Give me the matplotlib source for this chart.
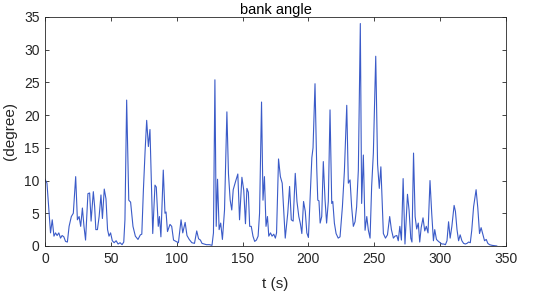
import matplotlib
matplotlib.use("Agg")
import matplotlib.pyplot as plt

plt.rcParams['font.family'] = ['Liberation Sans', 'DejaVu Sans']

t = [0, 1.5, 3.0, 4.2, 5.5, 6.8, 8.0, 9.2, 10.5, 11.8, 13.0, 14.3, 15.6, 17.0, 18.3, 20.0,
     21.5, 23.3, 24.6, 25.9, 27.1, 28.4, 29.6, 30.8, 32.6, 33.9, 35.0, 36.7, 37.7, 38.6,
     39.8, 41.1, 42.5, 43.6, 45.0, 46.3, 47.5, 48.6, 49.8, 51.1, 52.5, 54.0, 55.5, 57.0,
     58.5, 59.8, 60.7, 62.0, 63.6, 65.0, 66.8, 68.6, 70.6, 72.4, 73.5, 74.7, 76.0, 77.2,
     78.5, 79.7, 81.8, 83.5, 84.5, 86.0, 86.9, 88.0, 89.8, 91.1, 91.9, 93.0, 94.9, 96.2,
     97.6, 99.5, 101.3, 103.3, 104.6, 106.4, 107.8, 109.5, 111.5, 113.5, 115.2, 116.6,
     118.0, 119.2, 121.0, 122.5, 124.8, 126.8, 127.9, 129.0, 130.0, 131.0, 132.2, 133.4,
     134.7, 136.3, 138.1, 139.3, 140.6, 141.8, 142.9, 144.6, 146.4, 147.7, 149.5, 150.9,
     152.2, 153.3, 154.4, 155.4, 156.6, 157.9, 159.2, 160.5, 161.8, 162.9, 164.4, 165.5,
     166.6, 167.8, 168.9, 169.9, 171.2, 172.4, 173.7, 174.9, 175.8, 177.3, 178.7, 180.1,
     181.2, 182.4, 184.3, 185.7, 187.0, 188.4, 190.0, 191.3, 192.7, 193.9, 195.0, 196.3,
     197.6, 198.8, 200.0, 201.4, 202.6, 203.5, 205.0, 206.3, 207.1, 208.0, 208.9, 210.1,
     211.3, 212.6, 213.8, 215.1, 216.4, 217.7, 218.5, 219.7, 221.0, 222.6, 224.0, 225.8,
     227.3, 229.1, 230.3, 231.6, 232.8, 234.1, 235.4, 236.6, 237.9, 239.4, 240.4, 241.7,
     243.0, 244.3, 245.5, 246.8, 248.0, 249.3, 251.1, 252.5, 253.8, 255.0, 256.9, 258.5,
     260.0, 261.7, 263.0, 264.5, 265.7, 267.1, 268.2, 269.4, 270.6, 271.9, 273.3, 275.2,
     276.4, 277.7, 278.6, 279.8, 281.0, 282.2, 283.4, 284.5, 285.6, 287.0, 288.3, 289.5,
     290.8, 292.3, 293.6, 294.9, 295.9, 297.2, 298.7, 300.0, 301.3, 302.7, 304.0, 305.2,
     306.4, 307.6, 308.9, 310.6, 311.6, 312.8, 314.0, 315.2, 316.5, 317.8, 319.1, 320.4,
     321.6, 322.9, 324.0, 325.4, 327.3, 328.6, 329.9, 331.1, 332.4, 333.7, 335.0, 336.2,
     337.5, 339.3, 341.5, 343.0]

angle = [10.2, 9.6, 5.5, 2.0, 4.0, 1.5, 2.0, 1.6, 2.0, 1.2, 1.6, 1.4, 0.7, 0.6, 3.0, 4.5,
         5.0, 10.6, 4.0, 4.5, 3.0, 5.8, 3.0, 0.9, 8.0, 8.1, 3.8, 8.3, 6.0, 2.5,
         2.5, 4.5, 7.8, 4.2, 8.7, 7.2, 2.5, 1.5, 2.0, 0.8, 0.5, 0.8, 0.3, 0.5,
         0.2, 0.6, 4.0, 22.3, 7.0, 6.7, 3.0, 1.5, 1.0, 1.7, 1.8, 8.5, 14.5, 19.2,
         15.2, 17.8, 1.9, 9.3, 9.0, 3.0, 4.5, 1.4, 11.6, 5.0, 5.2, 2.2, 3.3, 3.0,
         0.9, 0.7, 0.5, 4.0, 2.0, 3.6, 1.6, 1.0, 0.5, 0.4, 2.3, 1.1,
         0.9, 0.4, 0.3, 0.2, 0.2, 0.1, 2.0, 25.4, 3.0, 10.2, 2.5, 3.5,
         1.0, 5.5, 20.5, 11.0, 7.0, 5.5, 8.6, 9.8, 11.0, 4.0, 10.5, 8.5,
         3.4, 8.8, 8.2, 3.0, 3.0, 1.5, 0.7, 0.9, 1.5, 5.0, 22.0, 7.0,
         10.6, 3.0, 4.5, 1.5, 2.0, 1.5, 1.8, 1.2, 2.0, 13.3, 10.6, 9.6,
         5.5, 1.2, 5.0, 9.1, 4.0, 3.8, 11.1, 6.8, 4.5, 3.4, 1.9, 6.8,
         5.3, 2.0, 1.3, 8.0, 13.5, 15.0, 24.8, 12.0, 7.0, 6.9, 3.5, 4.5,
         12.9, 7.1, 3.5, 6.8, 20.8, 6.5, 6.8, 3.5, 1.9, 1.2, 1.4, 6.0,
         11.4, 21.5, 9.6, 10.1, 6.0, 3.0, 3.7, 6.0, 11.6, 34.0, 6.5, 13.9,
         2.4, 4.5, 2.4, 1.2, 9.1, 14.2, 29.0, 12.5, 8.8, 12.1, 1.9, 1.2,
         1.7, 4.5, 2.5, 1.2, 1.5, 1.6, 0.8, 3.0, 0.9, 10.3, 0.3, 7.9,
         5.5, 1.2, 0.6, 14.2, 4.5, 2.6, 3.5, 0.6, 2.8, 4.3, 2.3, 3.0,
         2.0, 10.0, 5.0, 0.8, 2.5, 1.0, 0.7, 0.5, 0.3, 0.3, 0.2, 0.8,
         3.7, 1.2, 3.0, 6.2, 5.3, 2.5, 0.8, 1.7, 0.8, 0.4, 0.3, 0.4,
         0.6, 0.5, 2.4, 6.0, 8.6, 5.8, 1.9, 2.8, 1.8, 0.8, 1.0, 0.4,
         0.2, 0.1, 0.05, 0.0]

xticks = [0, 50, 100, 150, 200, 250, 300, 350]
yticks = [0, 5, 10, 15, 20, 25, 30, 35]

fig = plt.figure(figsize=(5.5, 2.96), dpi=100)
ax = fig.add_axes([0.0818, 0.169, 0.8382, 0.7736])
ax.plot(t, angle, color='#3b5bc8', linewidth=0.8)
ax.set_xlim(0, 350)
ax.set_ylim(0, 35)
ax.set_xticks(xticks)
ax.set_yticks(yticks)
axc = '#262626'
for s in ax.spines.values():
    s.set_color(axc)
    s.set_linewidth(0.6)
ax.tick_params(direction='in', top=True, right=True, length=3, width=0.6,
               colors=axc, labelsize=10, pad=4)
ax.set_title('bank angle', fontsize=10.5, color='black', pad=2)
ax.set_xlabel('t (s)', fontsize=11, color=axc, labelpad=8)
ax.set_ylabel('(degree)', fontsize=11, color=axc, labelpad=5)
fig.savefig('out.png', dpi=100)
